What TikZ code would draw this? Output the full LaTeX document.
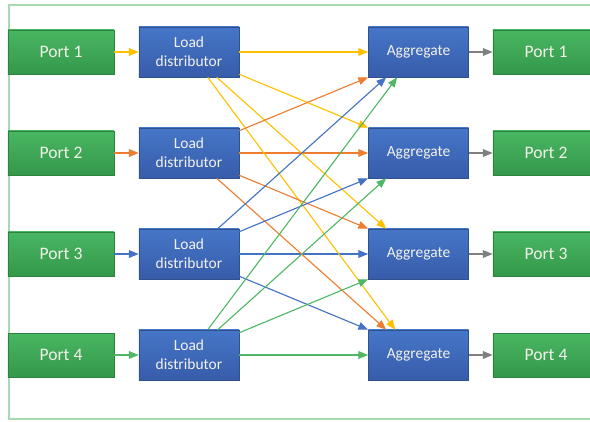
\documentclass[tikz,border=0pt]{standalone}
\usepackage{fontspec}
\setmainfont{Carlito}
\usetikzlibrary{arrows.meta,shadows}
\definecolor{boxblue}{RGB}{70,118,200}
\definecolor{boxbluedark}{RGB}{55,92,170}
\definecolor{blueedge}{RGB}{47,82,143}
\definecolor{boxgreen}{RGB}{72,182,98}
\definecolor{boxgreendark}{RGB}{52,152,74}
\definecolor{greenedge}{RGB}{45,130,62}
\definecolor{boxtext}{RGB}{242,242,235}
\definecolor{framegreen}{RGB}{168,218,178}
\definecolor{lyellow}{RGB}{255,192,0}
\definecolor{lorange}{RGB}{237,125,49}
\definecolor{lblue}{RGB}{68,114,196}
\definecolor{lgreen}{RGB}{80,184,100}
\definecolor{lgray}{RGB}{128,128,128}
\tikzset{
	boxbase/.style={line width=0.4pt, text=boxtext, drop shadow={opacity=0.2,shadow xshift=0.5pt,shadow yshift=-0.8pt}},
	portbox/.style={boxbase, draw=greenedge, top color=boxgreen, bottom color=boxgreendark, minimum width=2.65cm, minimum height=1.1cm, font=\fontsize{12.5}{15}\selectfont},
	distbox/.style={boxbase, draw=blueedge, top color=boxblue, bottom color=boxbluedark, minimum width=2.5cm, minimum height=1.25cm, align=center, font=\fontsize{11}{13.3}\selectfont},
	link/.style={-{Triangle[length=7pt,width=5.5pt]}, line width=0.8pt},
}
\begin{document}
\begin{tikzpicture}[x=0.025cm,y=-0.025cm]
	\clip (0,0) rectangle (590,421);
	\draw[framegreen,line width=0.9pt] (9,5) rectangle (600,419);
	% rows of boxes
	\foreach \i in {1,...,4}{
		\pgfmathsetmacro\rowy{52+101*(\i-1)}
		\node[portbox] (inport\i) at (61,\rowy) {Port \i};
		\node[distbox] (dist\i) at (189,\rowy) {Load\\distributor};
		\node[distbox] (agg\i) at (418.5,\rowy) {Aggregate};
		\node[portbox] (outport\i) at (546,\rowy) {Port \i};
	}
	% straight links
	\foreach \i/\lc in {1/lyellow,2/lorange,3/lblue,4/lgreen}{
		\draw[link,color=\lc] (inport\i) -- (dist\i);
		\draw[link,color=\lc] (dist\i) -- (agg\i);
		\draw[link,lgray] (agg\i) -- (outport\i);
	}
	% crossing links
	\draw[link,lyellow] ([yshift=0.075cm]dist1.south east) -- (agg2.north west);
	\draw[link,lyellow] ([xshift=1.95cm]dist1.south west) -- ([xshift=0.45cm]agg3.north west);
	\draw[link,lyellow] ([xshift=1.725cm]dist1.south west) -- ([xshift=0.675cm]agg4.north west);
	\draw[link,lorange] ([yshift=-0.075cm]dist2.north east) -- (agg1.south west);
	\draw[link,lorange] ([yshift=0.075cm]dist2.south east) -- (agg3.north west);
	\draw[link,lorange] ([xshift=1.95cm]dist2.south west) -- ([xshift=0.45cm]agg4.north west);
	\draw[link,lblue] ([xshift=1.975cm]dist3.north west) -- ([xshift=0.45cm]agg1.south west);
	\draw[link,lblue] ([yshift=-0.075cm]dist3.north east) -- (agg2.south west);
	\draw[link,lblue] ([yshift=0.075cm]dist3.south east) -- (agg4.north west);
	\draw[link,lgreen] ([xshift=1.725cm]dist4.north west) -- ([xshift=0.725cm]agg1.south west);
	\draw[link,lgreen] ([xshift=1.975cm]dist4.north west) -- ([xshift=0.45cm]agg2.south west);
	\draw[link,lgreen] ([yshift=-0.075cm]dist4.north east) -- (agg3.south west);
\end{tikzpicture}
\end{document}
